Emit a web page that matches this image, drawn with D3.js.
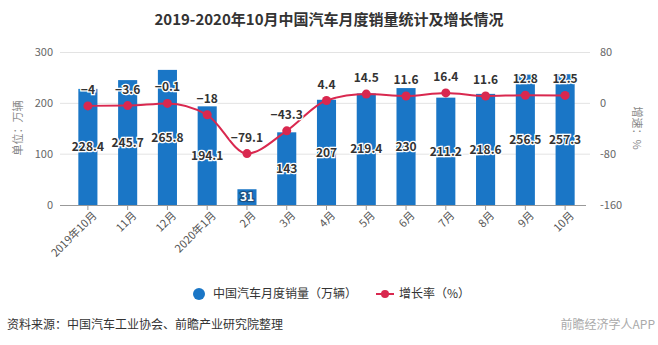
<!DOCTYPE html>
<html>
<head>
<meta charset="utf-8">
<script src="https://cdn.jsdelivr.net/npm/d3@7"></script>
<style>
  body { margin: 0; background: #fff; }
  text { font-family: "Noto Sans CJK SC", "Noto Sans", sans-serif; }
</style>
</head>
<body>
<div id="chart"></div>
<script>
// data
var months = ["2019年10月", "11月", "12月", "2020年1月", "2月", "3月", "4月",
              "5月", "6月", "7月", "8月", "9月", "10月"];
var sales = [228.4, 245.7, 265.8, 194.1, 31, 143, 207, 219.4, 230, 211.2, 218.6, 256.5, 257.3];
var growth = [-4, -3.6, -0.1, -18, -79.1, -43.3, 4.4, 14.5, 11.6, 16.4, 11.6, 12.8, 12.5];
var leftTicks = [0, 100, 200, 300];
var rightTicks = [-160, -80, 0, 80];

var W = 658, H = 345;
var barColor = "#1a76c6", lineColor = "#d9284f";

var svg = d3.select("#chart").append("svg")
  .attr("width", W).attr("height", H);

// title
svg.append("text")
  .attr("x", 329).attr("y", 25)
  .attr("text-anchor", "middle")
  .style("font-size", "15px").style("font-weight", "bold").style("fill", "#333")
  .text("2019-2020年10月中国汽车月度销量统计及增长情况");

var x = d3.scaleBand().domain(months).range([68, 585]).paddingInner(0.52).paddingOuter(0.26);
var y = d3.scaleLinear().domain([0, 300]).range([205, 52.5]);
var y2 = d3.scaleLinear().domain([-160, 80]).range([205, 52.5]);

// gridlines
svg.append("g").selectAll("line").data(leftTicks.slice(1)).join("line")
  .attr("x1", 60).attr("x2", 590)
  .attr("y1", function(d) { return y(d); }).attr("y2", function(d) { return y(d); })
  .attr("stroke", "#e3e3e3");

// left axis labels
svg.append("g").selectAll("text").data(leftTicks).join("text")
  .attr("x", 53).attr("y", function(d) { return y(d); })
  .attr("dy", "0.35em").attr("text-anchor", "end")
  .style("font-size", "11px").style("fill", "#666")
  .text(function(d) { return d; });

// right axis labels
svg.append("g").selectAll("text").data(rightTicks).join("text")
  .attr("x", 600).attr("y", function(d) { return y2(d); })
  .attr("dy", "0.35em").attr("text-anchor", "start")
  .style("font-size", "11px").style("fill", "#666")
  .text(function(d) { return d; });

// axis titles
svg.append("text")
  .attr("transform", "translate(18,128) rotate(-90)")
  .attr("text-anchor", "middle").attr("dy", "0.35em")
  .style("font-size", "11px").style("fill", "#888")
  .text("单位：万辆");
svg.append("text")
  .attr("transform", "translate(637,128) rotate(90)")
  .attr("text-anchor", "middle").attr("dy", "0.35em")
  .style("font-size", "11px").style("fill", "#888")
  .text("增速：%");

// bars
svg.append("g").selectAll("rect").data(sales).join("rect")
  .attr("x", function(d, i) { return x(months[i]); })
  .attr("width", x.bandwidth())
  .attr("y", function(d) { return y(d); })
  .attr("height", function(d) { return y(0) - y(d); })
  .attr("fill", barColor);

// bottom axis
var xAxis = svg.append("g")
  .attr("transform", "translate(0,205)")
  .call(d3.axisBottom(x).tickSize(5).tickSizeOuter(0));
xAxis.select(".domain").attr("stroke", "#999").attr("d", "M60,0.5H586");
xAxis.selectAll(".tick line").attr("stroke", "#999");
xAxis.selectAll(".tick text")
  .style("font-size", "11px").style("fill", "#555")
  .style("font-family", "\"Noto Sans CJK SC\", sans-serif")
  .attr("text-anchor", "end")
  .attr("dx", "-0.1em").attr("dy", "0.6em")
  .attr("transform", "rotate(-45)");

// bar value labels
svg.append("g").selectAll("text").data(sales).join("text")
  .attr("x", function(d, i) { return x(months[i]) + x.bandwidth() / 2; })
  .attr("y", function(d) { return (y(d) + y(0)) / 2; })
  .attr("dy", "0.35em").attr("text-anchor", "middle")
  .style("font-size", "12px").style("font-weight", "bold")
  .style("paint-order", "stroke")
  .style("stroke", function(d) { return d < 50 ? "#1d4f80" : "#fff"; })
  .style("stroke-width", 2.5)
  .style("fill", function(d) { return d < 50 ? "#fff" : "#333"; })
  .text(function(d) { return d; });

// growth line
var cx = function(i) { return x(months[i]) + x.bandwidth() / 2; };
svg.append("path")
  .datum(growth)
  .attr("d", d3.line()
    .x(function(d, i) { return cx(i); })
    .y(function(d) { return y2(d); })
    .curve(d3.curveMonotoneX))
  .attr("fill", "none")
  .attr("stroke", lineColor).attr("stroke-width", 2);

svg.append("g").selectAll("circle").data(growth).join("circle")
  .attr("cx", function(d, i) { return cx(i); })
  .attr("cy", function(d) { return y2(d); })
  .attr("r", 4.5).attr("fill", lineColor);

svg.append("g").selectAll("text").data(growth).join("text")
  .attr("x", function(d, i) { return cx(i); })
  .attr("y", function(d) { return y2(d) - 12; })
  .attr("text-anchor", "middle")
  .style("font-size", "12px").style("font-weight", "bold")
  .style("paint-order", "stroke").style("stroke", "#fff").style("stroke-width", 2.5)
  .style("fill", "#333")
  .text(function(d) { return d < 0 ? "\u2212" + Math.abs(d) : d; });

// legend
var lg = svg.append("g").attr("transform", "translate(0,294)");
lg.append("circle").attr("cx", 199).attr("cy", 0).attr("r", 6).attr("fill", barColor);
lg.append("text").attr("x", 213).attr("y", 0).attr("dy", "0.35em")
  .style("font-size", "12px").style("fill", "#333")
  .text("中国汽车月度销量（万辆）");
lg.append("line").attr("x1", 376).attr("x2", 394).attr("y1", 0).attr("y2", 0)
  .attr("stroke", lineColor).attr("stroke-width", 2);
lg.append("circle").attr("cx", 385).attr("cy", 0).attr("r", 4).attr("fill", lineColor);
lg.append("text").attr("x", 399).attr("y", 0).attr("dy", "0.35em")
  .style("font-size", "12px").style("fill", "#333")
  .text("增长率（%）");

// footer
svg.append("text").attr("x", 7).attr("y", 329)
  .style("font-size", "12px").style("fill", "#333")
  .text("资料来源：中国汽车工业协会、前瞻产业研究院整理");
svg.append("text").attr("x", 655).attr("y", 329).attr("text-anchor", "end")
  .style("font-size", "12px").style("fill", "#aaa")
  .text("前瞻经济学人APP");
</script>
</body>
</html>
